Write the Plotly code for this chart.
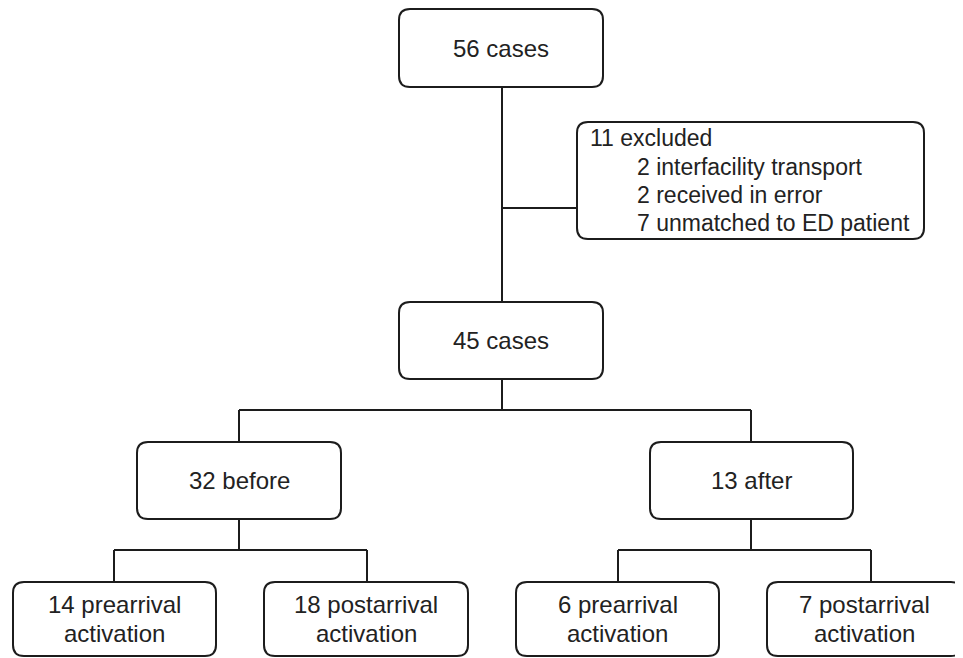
import plotly.graph_objects as go

# ---- data (flowchart contents) ----
node_labels = ["56 cases", "45 cases", "32 before", "13 after",
               "14 prearrival<br>activation", "18 postarrival<br>activation",
               "6 prearrival<br>activation", "7 postarrival<br>activation"]
excluded_title = "11 excluded"
excluded_items = ["2 interfacility transport", "2 received in error", "7 unmatched to ED patient"]

# ---- layout geometry (pixels) ----
W, H = 963, 658
OFF = 8  # default page body margin
node_boxes = [  # x0, y0, x1, y1
    (399, 9, 603, 87),
    (399, 302, 603, 379),
    (137, 442, 341, 519),
    (650, 442, 853, 519),
    (13, 582, 216, 656),
    (264, 582, 468, 656),
    (516, 582, 719, 656),
    (767, 582, 962, 656),
]
excl_box = (577, 122, 924, 239)

LC = "#1c1c1c"
LW = 2
R = 11
LINE_GAP = 28.5

def rrect(x0, y0, x1, y1, r=R):
    return (f"M {x0+r},{y0} L {x1-r},{y0} Q {x1},{y0} {x1},{y0+r} "
            f"L {x1},{y1-r} Q {x1},{y1} {x1-r},{y1} L {x0+r},{y1} "
            f"Q {x0},{y1} {x0},{y1-r} L {x0},{y0+r} Q {x0},{y0} {x0+r},{y0} Z")

shapes = []
def line(x0, y0, x1, y1):
    shapes.append(dict(type="line", x0=x0, y0=y0, x1=x1, y1=y1, xref="x", yref="y",
                       line=dict(color=LC, width=LW), layer="below"))

# connectors
line(502, 87, 502, 302)
line(502, 208, 577, 208)
line(502, 379, 502, 410)
line(239, 410, 751, 410)
line(239, 410, 239, 442)
line(751, 410, 751, 442)
line(239, 519, 239, 550)
line(114, 550, 367, 550)
line(114, 550, 114, 582)
line(367, 550, 367, 582)
line(751, 519, 751, 550)
line(618, 550, 871, 550)
line(618, 550, 618, 582)
line(871, 550, 871, 582)

for b in node_boxes + [excl_box]:
    shapes.append(dict(type="path", path=rrect(*b), xref="x", yref="y",
                       fillcolor="white", line=dict(color=LC, width=LW), layer="above"))

FONT = dict(family="Liberation Sans, Arial, sans-serif", size=24, color="#222222")
FONT_EX = dict(family="Liberation Sans, Arial, sans-serif", size=23, color="#222222")
annotations = []
for lab, (x0, y0, x1, y1) in zip(node_labels, node_boxes):
    parts = lab.split("<br>")
    n = len(parts)
    cy = (y0 + y1) / 2
    for i, p in enumerate(parts):
        annotations.append(dict(x=(x0 + x1) / 2, y=cy + (i - (n - 1) / 2) * LINE_GAP,
                                xref="x", yref="y", text=p, showarrow=False, font=FONT,
                                xanchor="center", yanchor="middle", align="center"))

annotations.append(dict(x=588, y=138, xref="x", yref="y", text=excluded_title,
                        showarrow=False, font=FONT_EX, xanchor="left", yanchor="middle"))
for i, item in enumerate(excluded_items):
    annotations.append(dict(x=635, y=167 + i * 28.2, xref="x", yref="y", text=item,
                            showarrow=False, font=FONT_EX, xanchor="left", yanchor="middle"))

fig = go.Figure()
fig.update_layout(
    width=W, height=H, margin=dict(l=0, r=0, t=0, b=0),
    paper_bgcolor="white", plot_bgcolor="white",
    xaxis=dict(range=[OFF, W + OFF], visible=False, fixedrange=True),
    yaxis=dict(range=[H + OFF, OFF], visible=False, fixedrange=True),
    shapes=shapes, annotations=annotations, showlegend=False,
)
fig.write_html("out.html")
